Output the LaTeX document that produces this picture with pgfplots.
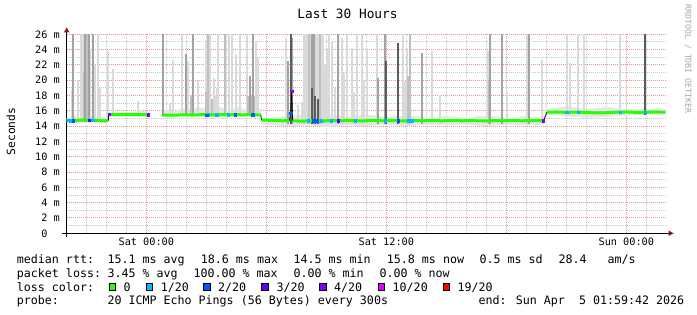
\documentclass[border=0pt]{standalone}
\usepackage{fontspec}
\setmainfont{DejaVu Sans Mono}
\setmonofont{DejaVu Sans Mono}
\usepackage{pgfplots}
\usepackage{pgfplotstable}
\pgfplotsset{compat=1.18}
\usetikzlibrary{arrows.meta}

\definecolor{smA}{HTML}{DADADA}
\definecolor{smB}{HTML}{C0C0C0}
\definecolor{smC}{HTML}{A2A2A2}
\definecolor{smD}{HTML}{5C5C5C}
\definecolor{haze}{HTML}{E6E6E6}
\definecolor{lc0}{HTML}{26FF00}
\definecolor{lc1}{HTML}{00B8FF}
\definecolor{lc2}{HTML}{0059FF}
\definecolor{lc3}{HTML}{5E00FF}
\definecolor{lc4}{HTML}{7E00FF}
\definecolor{lc10}{HTML}{DD00FF}
\definecolor{lc19}{HTML}{FF0000}
\definecolor{arrowred}{HTML}{8B1A1A}
\definecolor{mgrid}{HTML}{E49A9A}
\definecolor{ngrid}{HTML}{C8C8C8}

% smoke spikes: hour (0 = Sat 00:00), low, high (ms)
\pgfplotstableread{
h lo hi
-3.73 14.5 18.7
-3.40 14.5 20.0
-3.25 14.5 26.1
-3.15 14.5 26.1
-2.80 14.5 24.0
-2.55 14.5 22.0
-2.40 14.5 26.1
-2.32 14.5 19.0
-1.90 14.7 23.8
-1.65 15.3 21.4
-0.40 15.3 17.3
-0.02 15.3 16.0
1.18 15.3 17.0
1.35 15.3 22.6
1.77 15.3 26.1
2.10 15.3 22.5
2.60 15.3 19.9
2.97 15.3 25.3
3.18 15.3 26.1
3.38 15.3 20.3
3.45 15.3 18.1
3.52 15.3 19.0
3.57 15.3 26.1
4.13 15.3 26.1
4.27 15.3 26.1
4.47 15.3 23.4
4.70 15.3 26.1
5.02 15.3 26.1
5.47 15.3 25.1
5.60 15.3 22.9
6.97 14.3 25.5
7.60 14.3 16.8
7.77 14.3 17.2
7.90 14.3 26.1
7.99 14.3 26.1
8.05 14.3 26.1
8.10 14.3 26.1
8.20 14.3 26.1
8.25 14.3 26.1
8.35 14.3 26.1
8.45 14.3 26.1
8.52 14.3 26.1
8.60 14.3 26.1
8.70 14.3 26.1
8.80 14.3 26.1
8.85 14.3 26.1
8.95 14.3 22.0
9.05 14.3 24.0
9.14 14.3 26.1
9.27 14.3 25.1
9.45 14.3 19.0
9.77 14.3 25.5
9.90 14.3 21.0
10.05 14.3 26.1
10.27 14.3 24.2
10.40 14.3 18.5
10.52 14.3 26.1
10.77 14.3 26.1
10.90 14.3 20.0
11.02 14.3 24.2
11.52 14.3 26.1
12.85 14.3 26.1
12.95 14.3 19.9
13.02 14.3 24.0
14.27 14.3 23.8
14.69 14.3 18.1
17.10 14.3 23.8
18.05 14.3 18.4
19.05 14.3 26.1
19.77 14.3 22.6
21.02 15.5 26.1
21.19 15.5 22.2
21.60 15.5 26.1
21.89 15.5 26.1
23.69 15.5 26.1
}\smokeA

\pgfplotstableread{
h lo hi
-3.10 14.5 21.0
-2.95 14.5 26.1
2.00 15.3 19.0
2.25 15.3 18.0
3.00 15.3 18.5
3.10 15.3 26.1
3.30 15.3 17.5
3.93 15.3 26.1
5.10 15.3 18.0
5.25 15.3 18.0
5.40 15.3 18.0
8.14 14.3 26.1
8.30 14.3 22.0
8.69 14.3 26.1
13.10 14.3 20.5
13.19 14.3 26.1
17.15 14.3 20.0
}\smokeB

\pgfplotstableread{
h lo hi
-3.65 14.5 26.1
-3.07 14.5 26.1
-2.87 14.5 26.1
-2.65 14.5 26.1
0.85 15.3 26.1
1.97 15.3 23.4
2.32 15.3 26.1
5.18 15.3 20.5
5.35 15.3 26.1
7.10 14.3 22.5
7.30 14.3 25.5
8.27 14.3 26.1
8.39 14.3 26.1
9.60 14.3 26.1
11.60 14.3 20.3
11.94 14.3 26.1
13.77 14.3 23.5
17.19 14.3 26.1
17.77 14.3 26.1
19.12 14.3 26.1
}\smokeC

\pgfplotstableread{
h lo hi
7.24 14.3 26.1
8.30 14.3 19.0
8.45 14.3 18.0
8.60 14.3 17.5
11.99 14.3 22.5
12.60 14.3 24.9
24.94 15.5 26.1
}\smokeD

% median rtt (ms), nan = break
\pgfplotstableread{
h v
-3.98 14.75
-3.60 14.70
-3.30 14.80
-3.00 14.78
-2.70 14.80
-2.40 14.72
-2.10 14.68
-1.90 14.75
-1.89 nan
-1.88 15.52
-1.50 15.50
-1.00 15.53
-0.50 15.50
0.00 15.52
0.12 15.48
0.50 nan
0.80 15.45
1.30 15.42
1.80 15.48
2.30 15.45
2.80 15.50
3.30 15.47
3.80 15.52
4.30 15.52
4.80 15.48
5.30 15.50
5.72 15.45
5.73 nan
5.76 14.80
6.30 14.75
6.80 14.70
7.15 14.72
7.22 nan
7.32 14.70
7.80 14.65
8.30 14.72
8.80 14.66
9.30 14.75
9.80 14.70
10.30 14.73
10.80 14.68
11.30 14.75
11.80 14.70
12.30 14.72
12.80 14.68
13.30 14.73
13.80 14.70
14.30 14.72
14.80 14.70
15.30 14.73
15.80 14.70
16.30 14.72
16.80 14.68
17.30 14.72
17.80 14.70
18.30 14.72
18.80 14.70
19.30 14.73
19.86 14.70
19.95 nan
20.03 15.82
20.50 15.85
21.00 15.80
21.50 15.83
22.00 15.78
22.50 15.72
23.00 15.75
23.50 15.82
24.00 15.85
24.50 15.80
25.00 15.82
25.50 15.85
25.95 15.82
}\medgreen

\pgfplotstableread{
h v
-3.98 14.75
-1.90 14.75
-1.88 15.52
0.12 15.48
0.50 nan
0.80 15.45
5.72 15.45
5.76 14.80
7.15 14.72
7.22 15.70
7.27 18.60
7.32 14.70
19.86 14.70
20.03 15.82
25.95 15.82
}\medblack

\newcommand\lgt[3]{\node[anchor=base west, inner sep=0pt, font=\fontsize{11.65}{13}\selectfont] at (#1pt,#2pt) {#3};}
\newcommand\lbox[2]{\draw[fill=#2, line width=1pt] (#1pt+0.5pt,24.8pt) rectangle ++(6.3pt,6.3pt);}

\begin{document}
\begin{tikzpicture}
\fill[white] (0,0) rectangle (697pt,315pt);
\begin{axis}[
  at={(66.7pt,81.7pt)}, anchor=south west,
  scale only axis, width=600pt, height=200pt,
  xmin=-3.98, xmax=26.02, ymin=0, ymax=26.13,
  axis lines*=left,
  x axis line style={line width=1pt, shorten <=-4.7pt, shorten >=-7pt,
     -{Triangle[length=5pt,width=5pt,color=arrowred]}},
  y axis line style={line width=1pt, shorten <=-3.4pt, shorten >=-6pt,
     -{Triangle[length=5pt,width=5pt,color=arrowred]}},
  xtick={0,6,12,18,24},
  xticklabels={Sat 00:00,,Sat 12:00,,Sun 00:00},
  minor xtick={-3,-2,-1,1,2,3,4,5,7,8,9,10,11,13,14,15,16,17,19,20,21,22,23,25},
  ytick={0,2,...,26},
  yticklabels={{0\hphantom{xx}},{2 m},{4 m},{6 m},{8 m},{10 m},{12 m},{14 m},{16 m},{18 m},{20 m},{22 m},{24 m},{26 m}},
  minor ytick={1,3,...,25},
  grid=both,
  major grid style={draw=mgrid, line width=1pt, dash pattern=on 1pt off 1pt},
  minor grid style={draw=ngrid, line width=1pt, dash pattern=on 1pt off 1pt},
  major tick length=0pt, minor tick length=0pt,
  tick style={draw=none},
  ticklabel style={font=\fontsize{10.2}{12}\selectfont, inner sep=0pt},
  yticklabel style={anchor=east, xshift=-6.7pt},
  xticklabel style={anchor=base, yshift=-12.7pt},
  unbounded coords=jump,
]
% haze around the median
\addplot[fill=haze, draw=none, forget plot] coordinates {
(-3.98,14.45) (-1.92,14.45) (-1.92,15.0) (-2.0,15.2) (-2.4,15.1) (-2.8,15.4) (-3.2,15.0) (-3.6,15.3) (-3.98,15.1)} -- cycle;
\addplot[fill=haze, draw=none, forget plot] coordinates {
(-1.88,15.3) (0.13,15.3) (0.13,15.8) (-0.3,16.1) (-0.5,15.9) (-1.2,15.7) (-1.88,15.8)} -- cycle;
\addplot[fill=haze, draw=none, forget plot] coordinates {
(0.8,15.25) (5.73,15.25) (5.73,16.2) (5.4,16.6) (5.0,16.1) (4.6,16.5) (4.2,16.0) (3.8,16.4) (3.4,16.6) (3.0,16.3) (2.6,16.5) (2.2,16.0) (1.8,16.3) (1.4,15.9) (1.0,16.2) (0.8,15.9)} -- cycle;
\addplot[fill=haze, draw=none, forget plot] coordinates {
(5.75,14.2) (7.0,14.0) (8.0,14.1) (9.0,13.9) (10.0,14.1) (11.0,14.0) (12.0,14.2) (13.0,14.0) (14.0,14.2) (15.0,14.1) (16.0,14.2) (17.0,14.0) (18.0,14.2) (19.0,14.1) (19.88,14.2)
(19.88,15.1) (19.0,15.3) (18.0,15.1) (17.0,15.4) (16.0,15.1) (15.0,15.3) (14.0,15.1) (13.0,15.4) (12.0,15.2) (11.0,15.5) (10.0,15.2) (9.0,15.6) (8.0,15.5) (7.0,15.3) (5.75,15.0)} -- cycle;
\addplot[fill=haze, draw=none, forget plot] coordinates {
(20.03,15.5) (21.0,15.3) (22.0,15.1) (23.0,15.2) (24.0,15.4) (25.0,15.5) (25.95,15.6)
(25.95,16.1) (25.0,16.3) (24.0,16.2) (23.0,16.5) (22.0,16.2) (21.0,16.6) (20.03,16.2)} -- cycle;
% smoke
\addplot[draw=none, mark=none, forget plot,
  error bars/.cd, y dir=plus, y explicit, error mark=none,
  error bar style={draw=smA, line width=2.2pt}]
  table[x=h, y=lo, y error expr=\thisrow{hi}-\thisrow{lo}] {\smokeA};
\addplot[draw=none, mark=none, forget plot,
  error bars/.cd, y dir=plus, y explicit, error mark=none,
  error bar style={draw=smB, line width=2.2pt}]
  table[x=h, y=lo, y error expr=\thisrow{hi}-\thisrow{lo}] {\smokeB};
\addplot[draw=none, mark=none, forget plot,
  error bars/.cd, y dir=plus, y explicit, error mark=none,
  error bar style={draw=smC, line width=2.2pt}]
  table[x=h, y=lo, y error expr=\thisrow{hi}-\thisrow{lo}] {\smokeC};
\addplot[draw=none, mark=none, forget plot,
  error bars/.cd, y dir=plus, y explicit, error mark=none,
  error bar style={draw=smD, line width=2.2pt}]
  table[x=h, y=lo, y error expr=\thisrow{hi}-\thisrow{lo}] {\smokeD};
% median
\addplot[black, line width=0.8pt, mark=none, forget plot] table[x=h,y=v] {\medblack};
\addplot[lc0, line width=3pt, mark=none, forget plot] table[x=h,y=v] {\medgreen};
% loss coloured points
\addplot[only marks, mark=square*, mark size=1.2pt, lc1, forget plot] coordinates {
(-3.90,14.75) (-3.80,14.72) (-2.68,14.80) (3.10,15.47) (3.48,15.47) (3.52,15.45) (4.10,15.50)
(8.10,14.70) (8.73,14.70) (9.23,14.72) (10.43,14.72) (11.93,14.72) (13.10,14.72) (13.27,14.72)
(21.02,15.80) (21.60,15.80) (23.69,15.82) (24.93,15.82)};
\addplot[only marks, mark=square*, mark size=1.2pt, lc2, forget plot] coordinates {
(-3.65,14.72) (3.02,15.45) (4.43,15.50) (5.32,15.50) (7.22,15.70) (8.35,14.72) (8.45,14.70) (8.55,14.72) (12.60,14.70)};
\addplot[only marks, mark=square*, mark size=1.2pt, lc3, forget plot] coordinates {
(-2.85,14.78) (9.60,14.72)};
\addplot[only marks, mark=square*, mark size=1.2pt, lc4, forget plot] coordinates {
(-1.85,15.55) (0.10,15.50) (7.27,18.60) (19.85,14.70)};
\end{axis}

% title, labels, watermark
\node[anchor=base, inner sep=0pt, font=\fontsize{12.8}{14}\selectfont] at (347.5pt,296.7pt) {Last 30 Hours};
\node[rotate=90, inner sep=0pt, font=\fontsize{11.3}{13}\selectfont] at (10.8pt,183.5pt) {Seconds};
\node[rotate=-90, inner sep=0pt, text=black!35, font=\fontsize{8.2}{9}\selectfont] at (688pt,256pt) {RRDTOOL / TOBI OETIKER};

% legend lines
\lgt{16.7}{51.7}{median rtt:}
\lgt{107.3}{51.7}{15.1 ms avg}
\lgt{200.7}{51.7}{18.6 ms max}
\lgt{293.3}{51.7}{14.5 ms min}
\lgt{386.7}{51.7}{15.8 ms now}
\lgt{479.3}{51.7}{0.5 ms sd}
\lgt{558.3}{51.7}{28.4}
\lgt{607.3}{51.7}{am/s}

\lgt{16.7}{37.7}{packet loss:}
\lgt{107.3}{37.7}{3.45 \% avg}
\lgt{193.3}{37.7}{100.00 \% max}
\lgt{293.3}{37.7}{0.00 \% min}
\lgt{379.3}{37.7}{0.00 \% now}

\lgt{16.7}{23.5}{loss color:}
\lbox{108.7}{lc0}  \lgt{123.3}{23.5}{0}
\lbox{146}{lc1}    \lgt{160.7}{23.5}{1/20}
\lbox{203.3}{lc2}  \lgt{218}{23.5}{2/20}
\lbox{261.3}{lc3}  \lgt{276.5}{23.5}{3/20}
\lbox{319.3}{lc4}  \lgt{334}{23.5}{4/20}
\lbox{378}{lc10}   \lgt{392.5}{23.5}{10/20}
\lbox{442.8}{lc19} \lgt{457.3}{23.5}{19/20}

\lgt{16.7}{10}{probe:}
\lgt{107.3}{10}{20 ICMP Echo Pings (56 Bytes) every 300s}
\lgt{478.3}{10}{end: Sun Apr~~5 01:59:42 2026}
\end{tikzpicture}
\end{document}
